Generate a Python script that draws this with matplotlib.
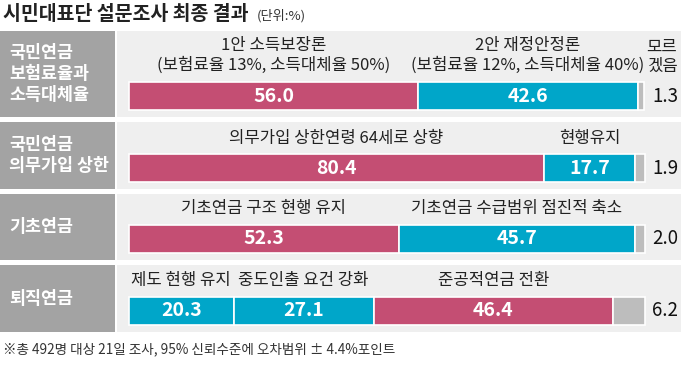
import matplotlib.pyplot as plt
from matplotlib.patches import Rectangle

plt.rcParams['font.family'] = ['Noto Sans CJK KR', 'DejaVu Sans']

# data
categories = ['국민연금\n보험료율과\n소득대체율', '국민연금\n의무가입 상한', '기초연금', '퇴직연금']
row_values = [
    [56.0, 42.6, 1.3],
    [80.4, 17.7, 1.9],
    [52.3, 45.7, 2.0],
    [20.3, 27.1, 46.4, 6.2],
]
row_labels = [
    ['1안 소득보장론\n(보험료율 13%, 소득대체율 50%)', '2안 재정안정론\n(보험료율 12%, 소득대체율 40%)', '모르\n겠음'],
    ['의무가입 상한연령 64세로 상향', '현행유지', ''],
    ['기초연금 구조 현행 유지', '기초연금 수급범위 점진적 축소', ''],
    ['제도 현행 유지', '중도인출 요건 강화', '준공적연금 전환', ''],
]
row_kinds = [
    ['pro', 'fin', 'dk'],
    ['pro', 'fin', 'dk'],
    ['pro', 'fin', 'dk'],
    ['fin', 'fin', 'pro', 'dk'],
]
title = '시민대표단 설문조사 최종 결과'
unit = '(단위:%)'
footnote = '※총 492명 대상 21일 조사, 95% 신뢰수준에 오차범위 ± 4.4%포인트'

colors = {'pro': '#c44e73', 'fin': '#00a6c9', 'dk': '#bdbdbd'}

W, H = 681, 382
fig = plt.figure(figsize=(W / 100, H / 100), dpi=100)
fig.patch.set_facecolor('white')

# axes over the whole figure: x in percent (0% at px 129, 100% at px 645), y in pixels
px_per_pct = 516 / 100
x0 = 129
ax = fig.add_axes([0, 0, 1, 1])
ax.set_xlim(-x0 / px_per_pct, (W - x0) / px_per_pct)
ax.set_ylim(H, 0)
ax.axis('off')

def px(x):
    return (x - x0) / px_per_pct

# row layout (pixels)
panel_top = [31, 122, 194, 265]
panel_bot = [117, 189, 260, 332]
bar_h = 28

ax.text(px(3), 15, title, fontsize=14, fontweight='bold', va='center', ha='left', color='#222222')
ax.text(px(257), 16, unit, fontsize=9.5, va='center', ha='left', color='#333333')

for i, cat in enumerate(categories):
    top, bot = panel_top[i], panel_bot[i]
    ax.add_patch(Rectangle((px(0), top), px(115) - px(0), bot - top, color='#a3a3a3', lw=0, zorder=0))
    ax.add_patch(Rectangle((px(117), top), px(W) - px(117), bot - top, color='#efefef', lw=0, zorder=0))
    ax.text(px(9), (top + bot) / 2, cat, fontsize=12.5, fontweight='bold', color='white',
            va='center', ha='left', linespacing=1.25)

    bar_bot = bot - 7
    yc = bar_bot - bar_h / 2
    vals = row_values[i]
    left = 0
    for v, lab, kind in zip(vals, row_labels[i], row_kinds[i]):
        ax.barh(yc, v, left=left, height=bar_h, color=colors[kind], edgecolor='white', linewidth=1.2, zorder=2)
        if kind == 'dk':
            ax.text(100 + px(652) - px(645), yc, f'{v:.1f}', fontsize=13.5, color='#111111', va='center', ha='left')
            if lab:
                ax.text(100 + px(662) - px(645), yc - bar_h / 2 - 25, lab, fontsize=12, color='#222222',
                        va='center', ha='center', linespacing=1.15)
        else:
            ax.text(left + v / 2, yc, f'{v:.1f}', fontsize=14, fontweight='bold', color='white',
                    va='center', ha='center', zorder=3)
            nlines = lab.count('\n') + 1
            ly = yc - bar_h / 2 - 16 - (nlines - 1) * 11
            ax.text(left + v / 2, ly, lab, fontsize=12, color='#222222', va='center', ha='center',
                    linespacing=1.2)
        left += v

ax.text(px(3), 349, footnote, fontsize=9.8, va='center', ha='left', color='#333333')

fig.savefig('out.png', dpi=100)
